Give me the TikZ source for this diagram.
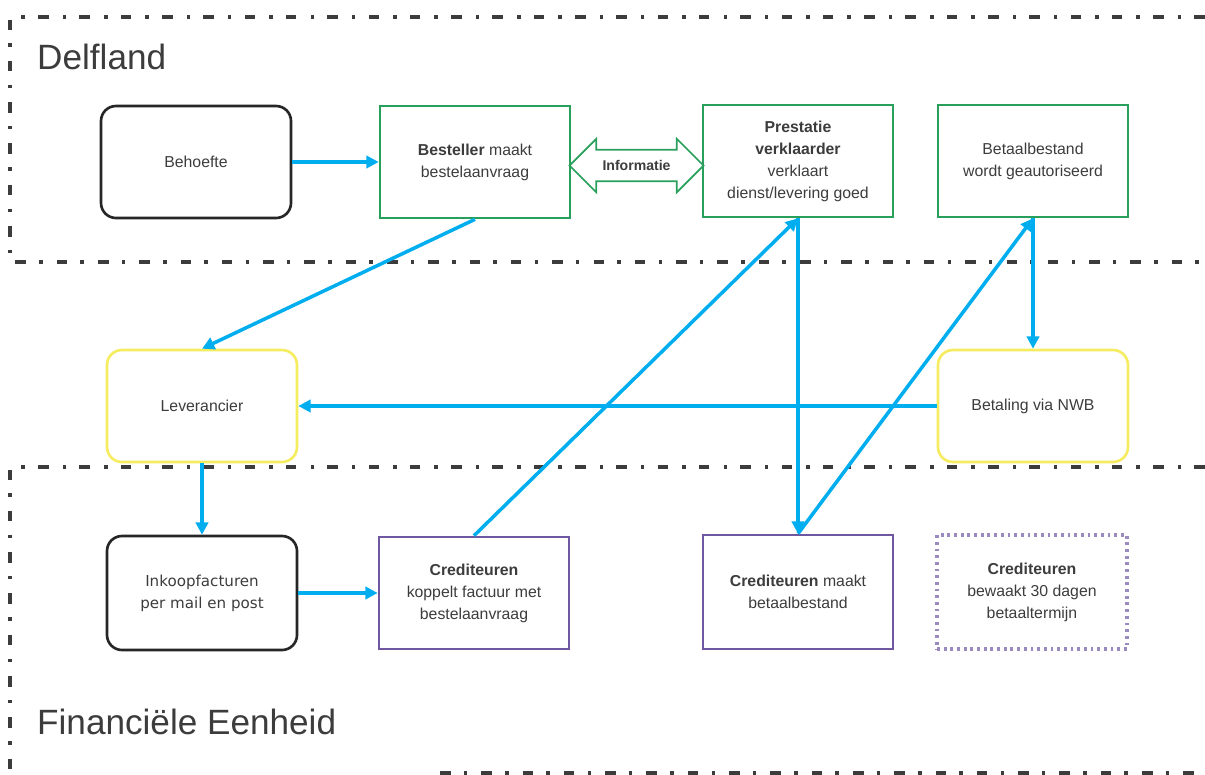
\documentclass[tikz,border=0pt]{standalone}
\usepackage{fontspec}
\setmainfont{Liberation Sans}
\newfontfamily\inkoopfont{DejaVu Sans}
\usepackage{tikz}
\usetikzlibrary{positioning}
\usetikzlibrary{calc}
\usetikzlibrary{shapes.arrows}
\usetikzlibrary{arrows.meta}
\definecolor{textgray}{RGB}{60,60,60}
\definecolor{regionline}{RGB}{60,60,60}
\definecolor{flowblue}{RGB}{0,174,239}
\definecolor{delflandgreen}{RGB}{40,160,92}
\definecolor{leveranciergeel}{RGB}{245,236,96}
\definecolor{crediteurenpaars}{RGB}{112,88,160}
\colorlet{crediteurenlicht}{crediteurenpaars!70!white}
\tikzstyle{boxtext}=[textgray, align=center, font=\fontsize{9}{12.5}\selectfont, minimum width=38mm, minimum height=22.4mm, line width=1.5pt]
\tikzstyle{blackmodule}=[boxtext, draw=black!85, rounded corners=3mm]
\tikzstyle{greenmodule}=[boxtext, draw=delflandgreen]
\tikzstyle{yellowmodule}=[boxtext, draw=leveranciergeel, rounded corners=3mm]
\tikzstyle{purplemodule}=[boxtext, draw=crediteurenpaars]
\tikzstyle{dottedmodule}=[boxtext, draw=crediteurenlicht, line width=2pt, dash pattern=on 1.6pt off 2.2pt]
\tikzstyle{region}=[regionline, line width=1.8pt, dash pattern=on 6pt off 7.5pt on 2pt off 8pt]
\tikzstyle{regiontitle}=[textgray, anchor=west, font=\fontsize{20}{24}\selectfont]
\tikzstyle{flow}=[flowblue, -{Triangle[length=7pt, width=7pt]}, line width=2pt]

\begin{document}
\begin{tikzpicture}[align=center]
    \useasboundingbox (0, 0) rectangle (24.1, -15.5);

    % Regions
    \draw[region] (24.1, -0.34) -- (0.2, -0.34) -- (0.2, -5.24) -- (24.1, -5.24);
    \draw[region] (24.1, -9.34) -- (0.2, -9.34) -- (0.2, -15.5);
    \draw[region] (8.8, -15.46) -- (24.1, -15.46);
    \node[regiontitle] at (0.62, -1.14) (delflandTitle) {Delfland};
    \node[regiontitle] at (0.62, -14.44) (financieelTitle) {Financiële Eenheid};

    \node[blackmodule] at (3.92, -3.24) (behoefte) {Behoefte};

    \node[greenmodule] at ($(behoefte) + (5.58, 0)$) (besteller) {\textbf{Besteller} maakt\\bestelaanvraag};

    \node[greenmodule] at ($(besteller) + (6.46, 0.02)$) (prestatie) {\textbf{Prestatie}\\\textbf{verklaarder}\\verklaart\\dienst/levering goed};

    \node[greenmodule] at ($(prestatie) + (4.70, 0.0)$) (betaalbestand) {Betaalbestand\\wordt geautoriseerd};

    \node[draw=delflandgreen, fill=white, line width=1pt, double arrow, double arrow head extend=0.22cm, minimum height=2.68cm, inner ysep=5.5pt, text=textgray, font=\bfseries\fontsize{8}{9}\selectfont] at ($(besteller.east)!0.5!(prestatie.west) + (0, -0.08)$) (informatie) {Informatie};

    \node[yellowmodule] at (4.04, -8.12) (leverancier) {Leverancier};

    \node[yellowmodule] at (betaalbestand |- leverancier) (betaling) {Betaling via NWB};

    \node[blackmodule, minimum height=22.8mm, font=\inkoopfont\fontsize{8.6}{12.5}\selectfont] at ($(leverancier) + (0, -3.74)$) (inkoop) {Inkoopfacturen\\per mail en post};

    \node[purplemodule] at ($(inkoop) + (5.44, 0)$) (koppelt) {\textbf{Crediteuren}\\koppelt factuur met\\bestelaanvraag};

    \node[purplemodule, minimum height=22.8mm] at ($(prestatie) + (0, -8.62)$) (betaalbestandMaken) {\textbf{Crediteuren} maakt\\betaalbestand};

    \node[dottedmodule, minimum height=22.8mm] at ($(betaalbestand) + (-0.02, -8.62)$) (termijn) {\textbf{Crediteuren}\\bewaakt 30 dagen\\betaaltermijn};

    % Arrows
    \draw[flow] (behoefte.east) -- (besteller.west);
    \draw[flow] (besteller.south) -- (leverancier.north);
    \draw[flow] (leverancier.south) -- (inkoop.north);
    \draw[flow] (inkoop.east) -- (koppelt.west);
    \draw[flow] (koppelt.north) -- (prestatie.south);
    \draw[flow] (prestatie.south) -- (betaalbestandMaken.north);
    \draw[flow] (betaalbestandMaken.north) -- (betaalbestand.south);
    \draw[flow] (betaalbestand.south) -- (betaling.north);
    \draw[flow] (betaling.west) -- (leverancier.east);

\end{tikzpicture}
\end{document}
